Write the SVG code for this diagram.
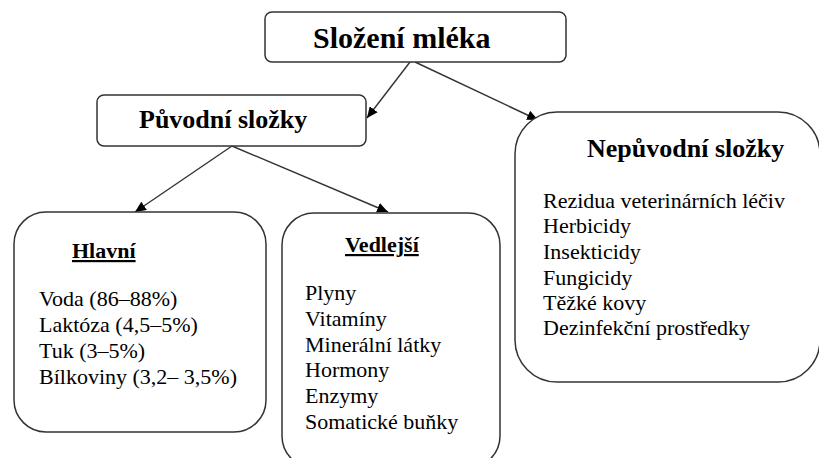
<svg xmlns="http://www.w3.org/2000/svg" width="819" height="458" viewBox="0 0 819 458">
<style>
.box{fill:#fff;stroke:#333;stroke-width:1.5}
text{font-family:'Liberation Serif','Times New Roman',serif;fill:#000}
.b{font-weight:bold}
.h1{font-size:30px}
.h2{font-size:26px}
.h3{font-size:22px;text-decoration:underline}
.it{font-size:22px}
.con{stroke:#333;stroke-width:1.4;fill:none;marker-end:url(#ah)}
</style>
<defs>
<marker id="ah" markerUnits="userSpaceOnUse" markerWidth="12" markerHeight="10" refX="11" refY="5" orient="auto">
<path d="M0,0 L11,5 L0,10 Z" fill="#000"/>
</marker>
</defs>
<rect width="819" height="458" fill="#fff"/>
<g id="connectors">
<line class="con" x1="410" y1="62" x2="367" y2="118"/>
<line class="con" x1="415" y1="62" x2="538" y2="120"/>
<line class="con" x1="232" y1="146" x2="135" y2="212"/>
<line class="con" x1="232" y1="146" x2="388" y2="212"/>
</g>
<g id="slozeni-mleka">
<rect class="box" x="265" y="12" width="301" height="50" rx="7"/>
<text class="b h1" x="313" y="48">Složení mléka</text>
</g>
<g id="puvodni-slozky">
<rect class="box" x="97" y="95" width="269" height="51" rx="7"/>
<text class="b h2" x="139" y="128">Původní složky</text>
</g>
<g id="nepuvodni-slozky">
<rect class="box" x="515" y="112" width="305" height="270" rx="42"/>
<text class="b h2" x="587" y="157">Nepůvodní složky</text>
<text class="it" x="543" y="208">Rezidua veterinárních léčiv</text>
<text class="it" x="543" y="233">Herbicidy</text>
<text class="it" x="543" y="259">Insekticidy</text>
<text class="it" x="543" y="285">Fungicidy</text>
<text class="it" x="543" y="310">Těžké kovy</text>
<text class="it" x="543" y="335">Dezinfekční prostředky</text>
</g>
<g id="hlavni">
<rect class="box" x="14" y="212" width="252" height="220" rx="32"/>
<text class="b h3" x="72" y="258">Hlavní</text>
<text class="it" x="39" y="306">Voda (86–88%)</text>
<text class="it" x="39" y="332">Laktóza (4,5–5%)</text>
<text class="it" x="39" y="358">Tuk (3–5%)</text>
<text class="it" x="39" y="384">Bílkoviny (3,2– 3,5%)</text>
</g>
<g id="vedlejsi">
<rect class="box" x="282" y="213" width="218" height="255" rx="32"/>
<text class="b h3" x="345" y="252">Vedlejší</text>
<text class="it" x="305" y="300">Plyny</text>
<text class="it" x="305" y="326">Vitamíny</text>
<text class="it" x="305" y="352">Minerální látky</text>
<text class="it" x="305" y="377">Hormony</text>
<text class="it" x="305" y="403">Enzymy</text>
<text class="it" x="305" y="429">Somatické buňky</text>
</g>
</svg>
